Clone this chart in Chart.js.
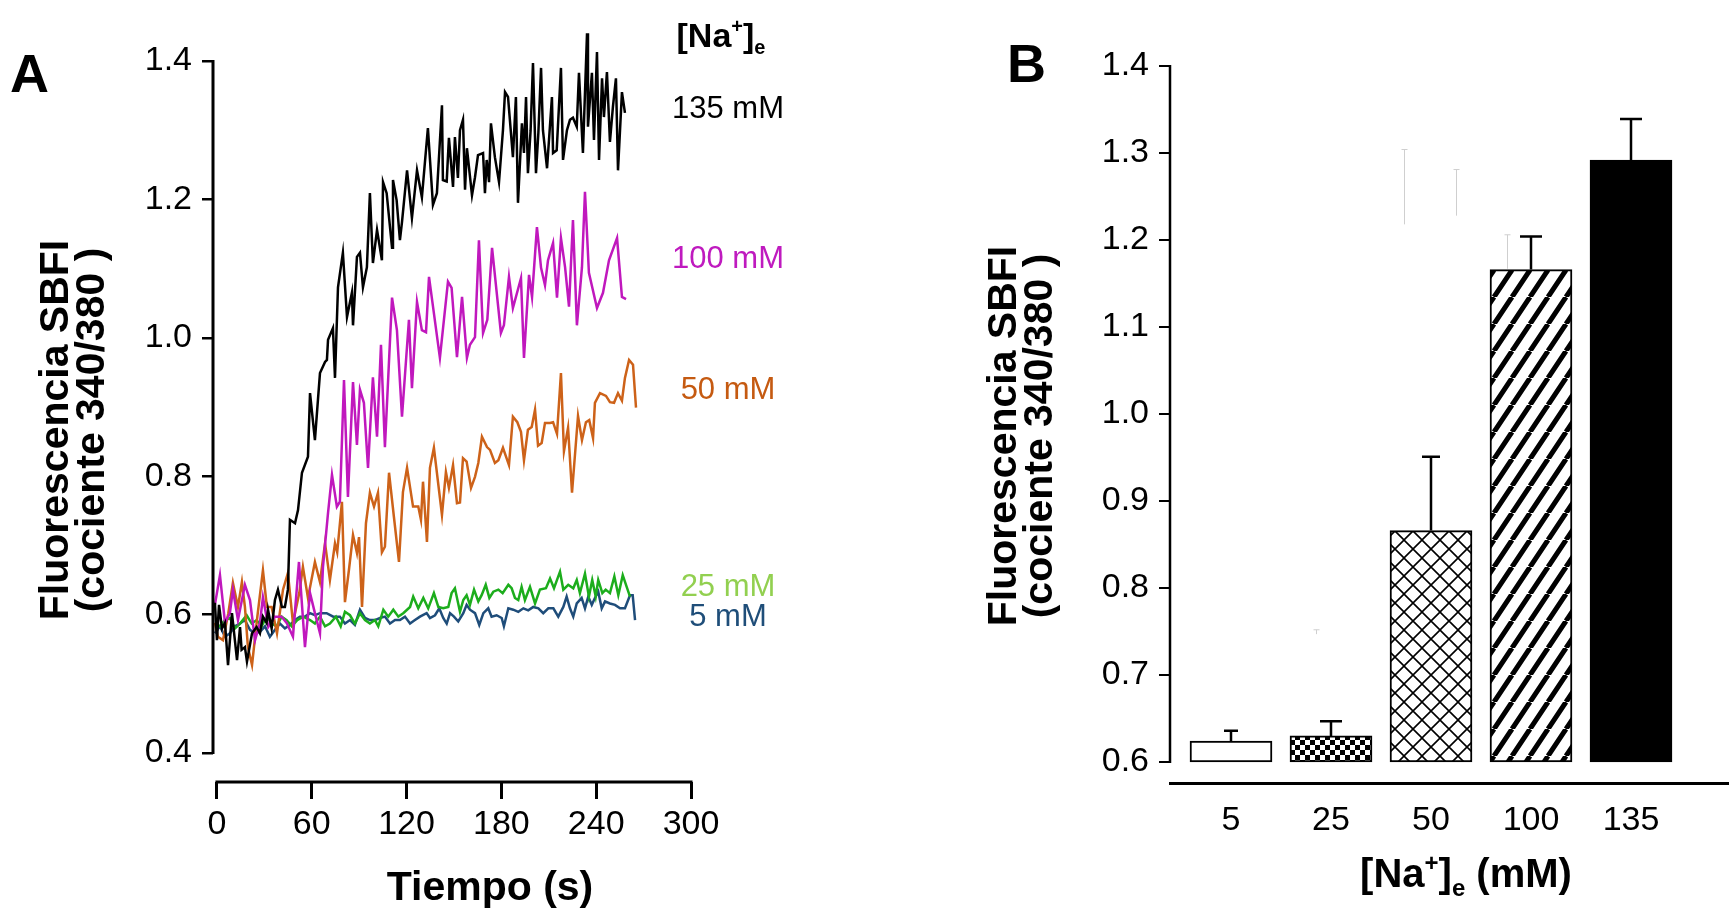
<!DOCTYPE html>
<html>
<head>
<meta charset="utf-8">
<script src="https://cdn.jsdelivr.net/npm/chart.js@4.4.1/dist/chart.umd.min.js"></script>
<style>
  html, body { margin: 0; padding: 0; background: #fff; }
  canvas { position: absolute; left: 0; top: 0; }
</style>
</head>
<body>
<canvas id="panelA" width="1729" height="911"></canvas>
<canvas id="panelB" width="1729" height="911"></canvas>
<script>
// ---- panel A: SBFI ratio vs time, one trace per [Na+]e ----
const t135 = [-1.3, 0, 1.3, 3.2, 5.1, 7.0, 9.5, 12.7, 14.6, 15.6, 17.7, 19.0, 22.2, 25.1, 27.2, 29.1, 31.4, 32.3, 34.6, 36.7,
  38.6, 41.1, 43.0, 44.9, 46.2, 49.4, 51.3, 53.8, 57.6, 58.9, 62.0, 63.9, 65.2, 68.4, 69.6, 70.3, 73.4, 74.7, 76.6, 79.7,
  82.3, 85.4, 86.1, 88.6, 90.5, 92.4, 94.9, 96.8, 98.7, 101.3, 104.4, 105.1, 107.4, 110.8, 111.4, 113.7, 115.8, 117.1, 120.3, 123.4,
  126.6, 129.7, 131.6, 133.5, 136.7, 139.2, 142.4, 143.0, 145.4, 146.8, 149.4, 150.6, 152.5, 153.8, 155.7, 157.0, 158.2, 161.4, 163.3, 165.2,
  168.4, 169.6, 170.7, 172.2, 173.4, 175.9, 178.5, 181.0, 182.3, 184.2, 187.3, 189.2, 190.5, 193.0, 194.3, 195.6, 196.8, 198.5, 200.0, 201.9,
  203.4, 205.1, 206.3, 208.9, 212.0, 212.7, 215.0, 217.7, 219.0, 221.5, 223.4, 225.3, 227.7, 229.1, 231.6, 234.2, 234.8, 237.3, 238.6, 240.5,
  241.8, 243.7, 244.9, 246.8, 248.7, 250.6, 252.5, 253.8, 256.3, 258.2];
const f135 = [0.617, 0.563, 0.614, 0.580, 0.588, 0.527, 0.602, 0.534, 0.582, 0.549, 0.553, 0.532, 0.573, 0.582, 0.573, 0.597, 0.588, 0.607, 0.580, 0.621,
  0.636, 0.611, 0.611, 0.636, 0.737, 0.732, 0.751, 0.805, 0.828, 0.920, 0.852, 0.910, 0.949, 0.965, 0.968, 0.997, 1.014, 0.942, 1.073, 1.123,
  1.030, 1.065, 1.018, 1.117, 1.123, 1.073, 1.102, 1.209, 1.108, 1.156, 1.112, 1.225, 1.209, 1.130, 1.228, 1.199, 1.141, 1.167, 1.242, 1.173,
  1.242, 1.203, 1.253, 1.303, 1.192, 1.209, 1.336, 1.228, 1.226, 1.289, 1.218, 1.290, 1.231, 1.300, 1.315, 1.214, 1.274, 1.206, 1.232, 1.264,
  1.267, 1.209, 1.257, 1.225, 1.310, 1.261, 1.225, 1.300, 1.355, 1.348, 1.261, 1.348, 1.195, 1.310, 1.267, 1.348, 1.238, 1.300, 1.397, 1.238,
  1.296, 1.390, 1.300, 1.245, 1.348, 1.267, 1.271, 1.390, 1.257, 1.300, 1.315, 1.318, 1.305, 1.383, 1.267, 1.440, 1.305, 1.383, 1.286, 1.413,
  1.257, 1.375, 1.319, 1.384, 1.283, 1.334, 1.375, 1.242, 1.355, 1.325];

const t100 = [-1.3, 1.9, 5.1, 8.2, 10.1, 13.3, 17.7, 20.9, 24.1, 27.2, 29.1, 32.5, 36.7, 40.9, 44.1, 48.1, 51.9, 55.7, 58.9, 62.0,
  65.2, 67.1, 70.3, 72.8, 75.9, 77.8, 80.4, 82.9, 86.1, 88.6, 90.5, 93.0, 95.6, 98.7, 101.3, 103.8, 106.3, 110.8, 113.9, 117.1,
  121.5, 123.4, 126.6, 129.7, 132.3, 134.2, 141.1, 146.2, 148.5, 151.9, 155.1, 158.2, 160.1, 163.3, 165.8, 168.4, 171.1, 174.1, 179.7, 181.6,
  184.8, 187.3, 192.4, 194.3, 197.5, 199.4, 202.5, 205.1, 207.6, 209.5, 212.7, 215.2, 217.7, 220.3, 222.8, 225.3, 227.8, 231.0, 232.9, 235.4,
  240.5, 244.3, 248.1, 253.2, 256.3, 258.9];
const f100 = [0.614, 0.657, 0.588, 0.602, 0.636, 0.592, 0.643, 0.621, 0.563, 0.588, 0.625, 0.582, 0.597, 0.597, 0.588, 0.568, 0.676, 0.553, 0.631, 0.602,
  0.573, 0.669, 0.747, 0.802, 0.756, 0.763, 0.939, 0.770, 0.936, 0.845, 0.925, 0.906, 0.812, 0.943, 0.857, 0.990, 0.842, 1.058, 1.011, 0.886,
  1.026, 0.927, 1.052, 1.011, 1.008, 1.088, 0.971, 1.081, 1.072, 0.972, 1.059, 0.971, 0.990, 1.001, 1.141, 1.007, 1.026, 1.130, 1.007, 1.018,
  1.088, 1.043, 1.086, 0.971, 1.091, 1.059, 1.160, 1.101, 1.076, 1.112, 1.137, 1.058, 1.144, 1.102, 1.045, 1.170, 1.018, 1.102, 1.211, 1.094,
  1.043, 1.065, 1.112, 1.144, 1.059, 1.056];

const t50 = [-1.3, 0.6, 3.8, 7.2, 10.1, 13.3, 15.8, 17.7, 19.6, 22.2, 25.3, 29.1, 31.6, 34.6, 38.0, 41.8, 44.9, 48.1, 52.1, 54.4,
  57.6, 62.0, 65.2, 68.4, 71.5, 74.7, 76.1, 79.1, 81.0, 83.5, 86.1, 88.6, 89.9, 91.8, 94.3, 96.8, 99.4, 101.9, 104.4, 106.3,
  108.9, 112.0, 115.2, 117.7, 120.3, 124.1, 127.4, 129.1, 130.4, 132.9, 134.8, 137.3, 142.4, 144.9, 146.8, 149.4, 151.9, 153.8, 155.7, 158.0,
  160.8, 163.3, 165.4, 167.7, 170.9, 172.8, 175.9, 178.1, 181.0, 184.8, 187.3, 190.1, 192.4, 194.3, 196.8, 199.2, 201.3, 203.2, 205.5, 207.6,
  210.8, 212.7, 215.2, 217.7, 219.6, 222.2, 224.7, 228.5, 231.0, 233.5, 235.6, 238.0, 239.2, 242.4, 246.2, 248.7, 251.3, 253.8, 256.3, 258.2,
  260.8, 263.3, 265.2];
const f50 = [0.588, 0.568, 0.563, 0.602, 0.646, 0.611, 0.647, 0.611, 0.553, 0.527, 0.592, 0.664, 0.611, 0.611, 0.573, 0.636, 0.660, 0.588, 0.631, 0.669,
  0.624, 0.676, 0.647, 0.703, 0.650, 0.703, 0.690, 0.763, 0.618, 0.664, 0.715, 0.689, 0.712, 0.611, 0.732, 0.776, 0.756, 0.776, 0.690, 0.698,
  0.805, 0.741, 0.676, 0.777, 0.812, 0.756, 0.756, 0.737, 0.792, 0.705, 0.812, 0.841, 0.744, 0.806, 0.783, 0.816, 0.761, 0.762, 0.826, 0.821,
  0.783, 0.799, 0.819, 0.857, 0.842, 0.838, 0.819, 0.823, 0.841, 0.816, 0.886, 0.878, 0.864, 0.823, 0.867, 0.871, 0.896, 0.844, 0.848, 0.877,
  0.877, 0.878, 0.861, 0.949, 0.836, 0.870, 0.776, 0.887, 0.852, 0.878, 0.881, 0.855, 0.906, 0.920, 0.916, 0.907, 0.906, 0.920, 0.909, 0.942,
  0.968, 0.961, 0.899];

const t25 = [-1.3, 1.9, 5.1, 8.2, 11.4, 14.6, 18.8, 22.0, 25.1, 28.3, 31.4, 34.6, 37.8, 40.9, 44.1, 47.3, 50.8, 54.6, 58.9, 62.0,
  65.2, 68.4, 71.5, 75.3, 78.3, 81.0, 84.2, 87.3, 90.5, 93.7, 96.8, 100.0, 102.1, 105.3, 108.4, 111.6, 114.8, 117.9, 122.2, 124.2,
  127.4, 130.6, 133.7, 137.3, 140.1, 143.2, 146.4, 148.5, 150.6, 153.8, 155.9, 158.0, 160.1, 162.7, 165.4, 167.5, 170.1, 172.4, 174.9, 178.1,
  180.8, 184.4, 186.5, 188.6, 190.7, 192.8, 194.9, 198.1, 201.3, 204.4, 208.2, 210.8, 213.3, 217.1, 219.2, 222.3, 225.5, 227.7, 229.7, 232.9,
  235.4, 237.5, 239.7, 241.3, 243.9, 246.0, 248.7, 251.5, 254.0, 256.8, 259.3, 261.4];
const f25 = [0.587, 0.583, 0.592, 0.595, 0.580, 0.587, 0.599, 0.587, 0.592, 0.583, 0.597, 0.587, 0.583, 0.597, 0.592, 0.583, 0.592, 0.597, 0.592, 0.587,
  0.597, 0.583, 0.587, 0.597, 0.583, 0.604, 0.599, 0.587, 0.602, 0.592, 0.587, 0.592, 0.583, 0.607, 0.597, 0.607, 0.597, 0.602, 0.611, 0.626,
  0.609, 0.624, 0.609, 0.631, 0.611, 0.609, 0.611, 0.631, 0.638, 0.604, 0.621, 0.628, 0.614, 0.636, 0.619, 0.628, 0.643, 0.624, 0.633, 0.636,
  0.631, 0.643, 0.638, 0.624, 0.621, 0.640, 0.621, 0.640, 0.616, 0.636, 0.638, 0.652, 0.638, 0.662, 0.636, 0.643, 0.638, 0.650, 0.631, 0.659,
  0.626, 0.650, 0.626, 0.650, 0.631, 0.636, 0.631, 0.655, 0.628, 0.657, 0.640, 0.626];

const t5 = [-1.3, 1.9, 5.1, 8.2, 11.4, 14.6, 17.7, 20.9, 24.1, 27.2, 30.4, 33.5, 36.7, 39.9, 43.0, 46.2, 49.4, 52.5, 55.7, 58.9,
  62.0, 65.2, 69.4, 73.6, 77.8, 81.0, 84.2, 87.3, 90.5, 93.7, 96.8, 100.0, 103.2, 106.3, 109.5, 112.7, 115.8, 119.0, 122.2, 125.3,
  128.5, 132.7, 134.8, 138.0, 140.7, 143.2, 145.4, 147.5, 150.0, 152.7, 155.9, 158.0, 160.1, 163.3, 166.0, 168.6, 171.7, 173.8, 177.0, 180.2,
  181.6, 184.4, 187.5, 190.7, 193.9, 197.0, 200.2, 203.4, 206.5, 209.7, 212.9, 216.0, 219.2, 221.3, 223.4, 225.5, 227.7, 230.8, 232.9, 235.0,
  237.2, 239.2, 241.3, 243.5, 245.6, 248.7, 251.9, 255.1, 258.2, 261.4, 263.1, 264.6];
const f5 = [0.573, 0.583, 0.568, 0.573, 0.583, 0.587, 0.592, 0.578, 0.573, 0.575, 0.583, 0.568, 0.578, 0.587, 0.580, 0.585, 0.592, 0.597, 0.597, 0.602,
  0.599, 0.602, 0.602, 0.597, 0.597, 0.587, 0.592, 0.585, 0.607, 0.595, 0.592, 0.592, 0.595, 0.597, 0.587, 0.592, 0.592, 0.597, 0.587, 0.592,
  0.597, 0.602, 0.595, 0.599, 0.609, 0.595, 0.587, 0.602, 0.597, 0.590, 0.602, 0.614, 0.607, 0.602, 0.585, 0.602, 0.609, 0.597, 0.599, 0.595,
  0.583, 0.609, 0.607, 0.604, 0.609, 0.606, 0.611, 0.609, 0.602, 0.609, 0.609, 0.597, 0.611, 0.626, 0.609, 0.597, 0.616, 0.624, 0.609, 0.626,
  0.614, 0.624, 0.633, 0.609, 0.619, 0.616, 0.614, 0.609, 0.609, 0.628, 0.628, 0.592];

const timeTicks = [0, 60, 120, 180, 240, 300];
const ratioTicksA = [0.4, 0.6, 0.8, 1.0, 1.2, 1.4];

// ---- panel B: mean ratio per [Na+]e ----
const naLabels = ['5', '25', '50', '100', '135'];
const barMeans = [0.624, 0.630, 0.866, 1.166, 1.292];
const barErrTop = [0.636, 0.647, 0.951, 1.204, 1.339];
// faint grey error-bar remnants visible in the figure (position in category units)
const ghostPos = [0.85, 1.73, 2.25, 2.76];
const ghostLo = [0.747, 1.218, 1.228, 1.167];
const ghostHi = [0.752, 1.304, 1.281, 1.206];
const ratioTicksB = [0.6, 0.7, 0.8, 0.9, 1.0, 1.1, 1.2, 1.3, 1.4];

const FONT = "'Liberation Sans', Arial, sans-serif";

function pts(ts, vs) {
  return ts.map((t, i) => ({ x: t, y: vs[i] }));
}

function drawNa(ctx, x, y, size, tail) {
  // "[Na+]e" with superscript + and subscript e, centred on x
  const big = `bold ${size}px ${FONT}`;
  const small = `bold ${Math.round(size * 0.6)}px ${FONT}`;
  const parts = [['[Na', big, 0], ['+', small, -0.4 * size], [']', big, 0], ['e', small, 0.22 * size], [tail, big, 0]];
  let w = 0;
  parts.forEach(p => { ctx.font = p[1]; w += ctx.measureText(p[0]).width; });
  let cx = x - w / 2;
  ctx.textAlign = 'left';
  ctx.textBaseline = 'alphabetic';
  parts.forEach(p => {
    ctx.font = p[1];
    ctx.fillText(p[0], cx, y + p[2]);
    cx += ctx.measureText(p[0]).width;
  });
}

function vText(ctx, lines, cx, cy, font, gap) {
  ctx.save();
  ctx.translate(cx, cy);
  ctx.rotate(-Math.PI / 2);
  ctx.font = font;
  ctx.textAlign = 'center';
  ctx.textBaseline = 'middle';
  lines.forEach((s, i) => ctx.fillText(s, 0, i * gap));
  ctx.restore();
}

const axisLines = {
  id: 'axisLines',
  afterDraw(chart, args, o) {
    const { ctx, chartArea, scales: { x, y } } = chart;
    ctx.save();
    ctx.strokeStyle = '#000';
    ctx.lineWidth = o.yWidth;
    ctx.beginPath();
    ctx.moveTo(chartArea.left, y.getPixelForValue(o.yTop) - 1);
    ctx.lineTo(chartArea.left, y.getPixelForValue(o.yBottom) + 1);
    ctx.stroke();
    if (o.xFrom !== undefined) {
      ctx.lineWidth = o.xWidth;
      ctx.beginPath();
      ctx.moveTo(x.getPixelForValue(o.xFrom) - 1.5, chartArea.bottom);
      ctx.lineTo(x.getPixelForValue(o.xTo) + 1.5, chartArea.bottom);
      ctx.stroke();
    }
    ctx.restore();
  }
};

const textA = {
  id: 'textA',
  afterDraw(chart) {
    const ctx = chart.ctx;
    ctx.save();
    ctx.fillStyle = '#000';
    ctx.font = `bold 54px ${FONT}`;
    ctx.textAlign = 'left';
    ctx.fillText('A', 10, 92);
    drawNa(ctx, 721, 47, 34, '');
    ctx.font = `31px ${FONT}`;
    ctx.textAlign = 'center';
    [['135 mM', '#000000', 118], ['100 mM', '#bf1abf', 268], ['50 mM', '#c55a11', 399],
     ['25 mM', '#92d050', 596], ['5 mM', '#1f4e79', 626]].forEach(l => {
      ctx.fillStyle = l[1];
      ctx.fillText(l[0], 728, l[2]);
    });
    ctx.fillStyle = '#000';
    ctx.font = `bold 41px ${FONT}`;
    ctx.fillText('Tiempo (s)', 490, 900);
    vText(ctx, ['Fluorescencia SBFI', '(cociente 340/380 )'], 57, 430, `bold 41px ${FONT}`, 36);
    ctx.restore();
  }
};

const textB = {
  id: 'textB',
  afterDraw(chart) {
    const ctx = chart.ctx;
    ctx.save();
    ctx.fillStyle = '#000';
    ctx.font = `bold 54px ${FONT}`;
    ctx.textAlign = 'left';
    ctx.fillText('B', 1007, 82);
    drawNa(ctx, 1466, 887, 40, ' (mM)');
    vText(ctx, ['Fluorescencia SBFI', '(cociente 340/380 )'], 1005, 436, `bold 41px ${FONT}`, 36);
    ctx.restore();
  }
};

const errorBars = {
  id: 'errorBars',
  afterDatasetsDraw(chart) {
    const { ctx, scales: { x, y } } = chart;
    const capHalf = [7, 11, 9, 11, 11];
    ctx.save();
    ctx.strokeStyle = '#000';
    ctx.lineWidth = 2.5;
    barMeans.forEach((m, i) => {
      const px = x.getPixelForValue(i);
      const y0 = y.getPixelForValue(m);
      const y1 = y.getPixelForValue(barErrTop[i]);
      ctx.beginPath();
      ctx.moveTo(px, y0);
      ctx.lineTo(px, y1);
      ctx.moveTo(px - capHalf[i], y1);
      ctx.lineTo(px + capHalf[i], y1);
      ctx.stroke();
    });
    ctx.strokeStyle = '#cfcfcf';
    ctx.lineWidth = 1;
    ghostPos.forEach((g, i) => {
      const px = Math.round(x.getPixelForValue(g)) + 0.5;
      const y0 = y.getPixelForValue(ghostLo[i]);
      const y1 = y.getPixelForValue(ghostHi[i]);
      ctx.beginPath();
      ctx.moveTo(px, y0);
      ctx.lineTo(px, y1);
      ctx.moveTo(px - 3, y1);
      ctx.lineTo(px + 3, y1);
      ctx.stroke();
    });
    ctx.restore();
  }
};

// ---- chart A ----
const tickFont = { family: FONT, size: 34 };

function line(ts, vs, color) {
  return {
    data: pts(ts, vs),
    borderColor: color,
    borderWidth: 2.5,
    pointRadius: 0,
    tension: 0,
    fill: false,
    clip: false
  };
}

new Chart(document.getElementById('panelA'), {
  type: 'line',
  data: {
    datasets: [
      line(t135, f135, '#000000'),
      line(t100, f100, '#c018bd'),
      line(t50, f50, '#cd6219'),
      line(t25, f25, '#1cad1c'),
      line(t5, f5, '#1f4d7a')
    ]
  },
  options: {
    responsive: false,
    animation: false,
    layout: { padding: { left: 100, right: 1038, top: 61, bottom: 0 } },
    plugins: {
      legend: { display: false },
      tooltip: { enabled: false },
      axisLines: { yTop: 1.4, yBottom: 0.4, yWidth: 3, xFrom: 0, xTo: 300, xWidth: 3 }
    },
    scales: {
      x: {
        type: 'linear',
        min: -2.5,
        max: 300,
        afterFit: s => { s.height = 129; },
        afterBuildTicks: s => { s.ticks = timeTicks.map(v => ({ value: v })); },
        border: { display: false },
        grid: { drawOnChartArea: false, drawTicks: true, tickLength: 17, lineWidth: 3, color: '#000' },
        ticks: { font: tickFont, color: '#000', padding: 5, maxRotation: 0, autoSkip: false, callback: v => String(v) }
      },
      y: {
        min: 0.358,
        max: 1.4,
        afterFit: s => { s.width = 113; },
        afterBuildTicks: s => { s.ticks = ratioTicksA.map(v => ({ value: v })); },
        border: { display: false },
        grid: { drawOnChartArea: false, drawTicks: true, tickLength: 11, lineWidth: 2.5, color: '#000' },
        ticks: { font: tickFont, color: '#000', padding: 10, autoSkip: false, callback: v => v.toFixed(1) }
      }
    }
  },
  plugins: [axisLines, textA]
});

// ---- chart B ----
const ctxB = document.getElementById('panelB').getContext('2d');

function makePattern(w, h, draw) {
  const c = document.createElement('canvas');
  c.width = w;
  c.height = h;
  const g = c.getContext('2d');
  g.fillStyle = '#fff';
  g.fillRect(0, 0, w, h);
  g.fillStyle = '#000';
  g.strokeStyle = '#000';
  draw(g, w, h);
  return ctxB.createPattern(c, 'repeat');
}

const checker = makePattern(10, 10, (g, w, h) => {
  g.fillRect(0, 0, w / 2, h / 2);
  g.fillRect(w / 2, h / 2, w / 2, h / 2);
});
const diamonds = makePattern(18, 18, (g, w, h) => {
  g.lineWidth = 1.6;
  g.beginPath();
  g.moveTo(0, 0); g.lineTo(w, h);
  g.moveTo(w, 0); g.lineTo(0, h);
  g.stroke();
});
const stripes = makePattern(18, 27, (g, w, h) => {
  g.lineWidth = 5;
  g.beginPath();
  g.moveTo(-w, h); g.lineTo(0, 0);
  g.moveTo(0, h); g.lineTo(w, 0);
  g.moveTo(w, h); g.lineTo(2 * w, 0);
  g.stroke();
});
const barFills = ['#ffffff', checker, diamonds, stripes, '#000000'];

new Chart(ctxB, {
  type: 'bar',
  data: {
    datasets: [{
      data: barMeans.map((m, i) => ({ x: i, y: [0.6, m] })),
      backgroundColor: barFills,
      borderColor: '#000',
      borderWidth: 2,
      borderSkipped: false,
      barThickness: 82
    }]
  },
  options: {
    responsive: false,
    animation: false,
    layout: { padding: { left: 1060, right: 1, top: 66, bottom: 0 } },
    plugins: {
      legend: { display: false },
      tooltip: { enabled: false },
      axisLines: { yTop: 1.4, yBottom: 0.6, yWidth: 2.5 }
    },
    scales: {
      x: {
        type: 'linear',
        offset: false,
        min: -0.61,
        max: 4.97,
        afterFit: s => { s.height = 128; },
        afterBuildTicks: s => { s.ticks = naLabels.map((_, i) => ({ value: i })); },
        border: { display: true, width: 3, color: '#000' },
        grid: { display: false, drawTicks: false },
        ticks: { font: tickFont, color: '#000', padding: 17, maxRotation: 0, autoSkip: false, callback: v => naLabels[v] }
      },
      y: {
        min: 0.5759,
        max: 1.4,
        afterFit: s => { s.width = 110; },
        afterBuildTicks: s => { s.ticks = ratioTicksB.map(v => ({ value: v })); },
        border: { display: false },
        grid: { drawOnChartArea: false, drawTicks: true, tickLength: 11, lineWidth: 2, color: '#000' },
        ticks: { font: tickFont, color: '#000', padding: 10, autoSkip: false, callback: v => v.toFixed(1) }
      }
    }
  },
  plugins: [errorBars, axisLines, textB]
});
</script>
</body>
</html>
